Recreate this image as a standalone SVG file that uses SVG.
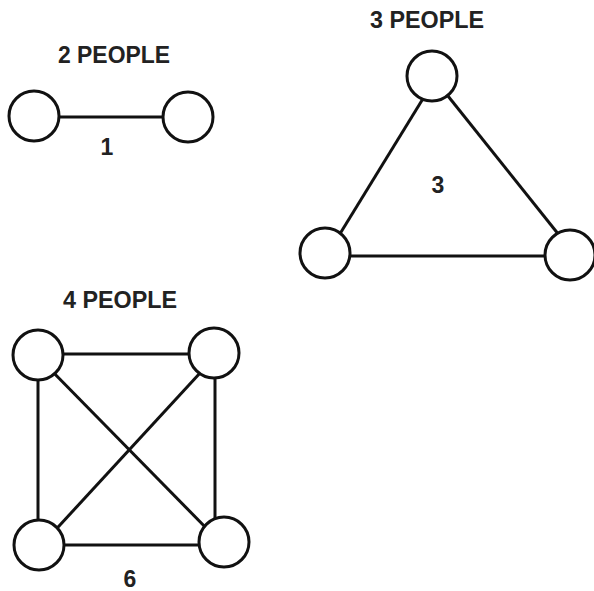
<svg xmlns="http://www.w3.org/2000/svg" width="594" height="591" viewBox="0 0 594 591">
<style>
.bg{fill:#fff}
.edge{stroke:#111;stroke-width:3;fill:none}
.node{fill:#fff;stroke:#111;stroke-width:3}
.t{font-family:"Liberation Sans",Arial,sans-serif;font-weight:bold;font-size:23px;fill:#222;text-anchor:middle}
</style>
<rect class="bg" width="594" height="591"/>
<g id="labels">
<text class="t" x="114" y="63" textLength="112" lengthAdjust="spacingAndGlyphs">2 PEOPLE</text>
<text class="t" x="107" y="155">1</text>
<text class="t" x="427" y="28" textLength="114" lengthAdjust="spacingAndGlyphs">3 PEOPLE</text>
<text class="t" x="438" y="193">3</text>
<text class="t" x="120" y="308" textLength="114" lengthAdjust="spacingAndGlyphs">4 PEOPLE</text>
<text class="t" x="130" y="587">6</text>
</g>
<g id="connectors">
<line class="edge" x1="34" y1="117" x2="188" y2="117"/>
<line class="edge" x1="330" y1="250" x2="432" y2="84"/>
<line class="edge" x1="432" y1="76" x2="567" y2="245"/>
<line class="edge" x1="325" y1="256" x2="569" y2="256"/>
<line class="edge" x1="38" y1="354" x2="214" y2="354"/>
<line class="edge" x1="38" y1="355" x2="38" y2="545"/>
<line class="edge" x1="215" y1="354" x2="215" y2="542"/>
<line class="edge" x1="39" y1="545" x2="224" y2="545"/>
<line class="edge" x1="45" y1="364" x2="215" y2="537"/>
<line class="edge" x1="212" y1="360" x2="48" y2="538"/>
</g>
<g id="p2a"><circle class="node" cx="34" cy="116" r="25"/></g>
<g id="p2b"><circle class="node" cx="188" cy="117" r="25"/></g>
<g id="p3top"><circle class="node" cx="432" cy="76" r="25"/></g>
<g id="p3left"><circle class="node" cx="325" cy="253" r="25"/></g>
<g id="p3right"><circle class="node" cx="570" cy="255" r="25"/></g>
<g id="p4tl"><circle class="node" cx="38" cy="355" r="25"/></g>
<g id="p4tr"><circle class="node" cx="214" cy="353" r="25"/></g>
<g id="p4bl"><circle class="node" cx="39" cy="545" r="25"/></g>
<g id="p4br"><circle class="node" cx="224" cy="542" r="25"/></g>
</svg>
